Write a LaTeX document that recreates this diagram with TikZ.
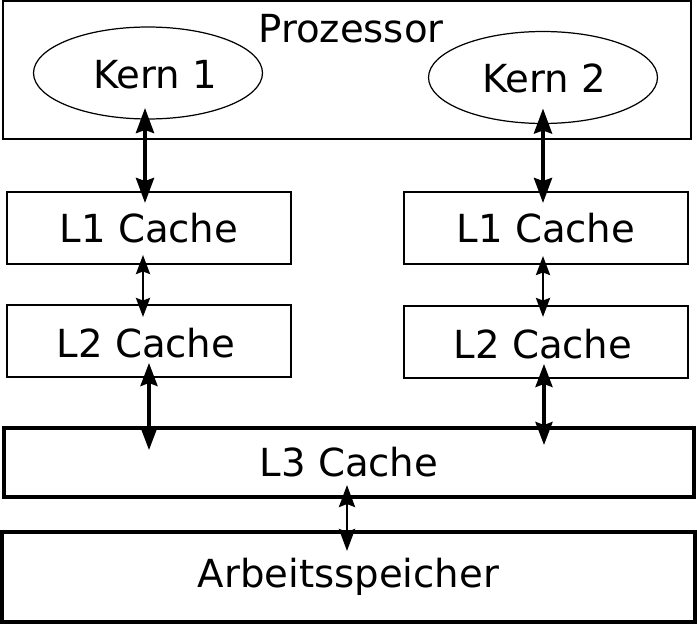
\documentclass[tikz,border=0pt]{standalone}
\usepackage{fontspec}
\setmainfont{DejaVu Sans}
\usetikzlibrary{shapes.geometric, calc, positioning, arrows.meta}

\begin{document}
\begin{tikzpicture}[
        x=0.02cm, y=-0.02cm,
        font=\fontsize{22}{26}\selectfont,
        cpuBox/.style={draw, line width=1.1pt, inner sep=0pt, outer sep=0pt, minimum width=13.76cm, minimum height=2.76cm},
        coreNode/.style={draw, ellipse, line width=0.7pt, inner sep=0pt, outer sep=0pt, minimum width=4.58cm, minimum height=1.84cm},
        cacheNode/.style={draw, line width=1.1pt, inner sep=0pt, outer sep=0pt, minimum width=5.68cm, minimum height=1.44cm},
        sharedNode/.style={draw, line width=1.8pt, inner sep=0pt, outer sep=0pt, minimum width=13.8cm, minimum height=1.38cm},
        ramNode/.style={draw, line width=2pt, inner sep=0pt, outer sep=0pt, minimum width=13.86cm, minimum height=1.8cm},
        bigLink/.style={line width=2.2pt, {Stealth[length=0.5cm, width=0.36cm, inset=0.06cm]}-{Stealth[length=0.5cm, width=0.36cm, inset=0.06cm]}},
        smallLink/.style={line width=1.5pt, {Stealth[length=0.38cm, width=0.28cm, inset=0.05cm]}-{Stealth[length=0.38cm, width=0.28cm, inset=0.05cm]}},
        midLink/.style={line width=2pt, {Stealth[length=0.46cm, width=0.34cm, inset=0.06cm]}-{Stealth[length=0.46cm, width=0.34cm, inset=0.06cm]}},
        ramLink/.style={line width=1.7pt, {Stealth[length=0.44cm, width=0.32cm, inset=0.06cm]}-{Stealth[length=0.44cm, width=0.32cm, inset=0.06cm]}}
    ]
        \useasboundingbox (0,0) rectangle (697,625);

        % Prozessor mit zwei Kernen
        \node[cpuBox] (cpu) at (347,70) {};
        \node (cpuLabel) at (351,29) {Prozessor};
        \node[coreNode] (kernA) at (148,73) {};
        \node (kernAText) at (155,75) {Kern 1};
        \node[coreNode] (kernB) at (543,77.5) {};
        \node (kernBText) at (544,78) {Kern 2};

        % private Caches
        \node[cacheNode] (lOneA) at (149,228) {L1 Cache};
        \node[cacheNode] (lOneB) at (546,228) {L1 Cache};
        \node[cacheNode] (lTwoA) at (149,341) {};
        \node (lTwoAText) at (146,343) {L2 Cache};
        \node[cacheNode] (lTwoB) at (546,342) {};
        \node (lTwoBText) at (543,344) {L2 Cache};

        % gemeinsamer Cache und Speicher
        \node[sharedNode] (lThree) at (349,462.5) {L3 Cache};
        \node[ramNode] (ram) at (348.5,577) {Arbeitsspeicher};

        \draw[bigLink] ($(kernA.south)+(-3,-11)$) -- ($(kernA.south |- lOneA.north)+(-3,11)$);
        \draw[bigLink] ($(kernB.south)+(0,-15)$) -- ($(kernB.south |- lOneB.north)+(0,11)$);
        \draw[smallLink] ($(lOneA.south)+(-6,-9)$) -- ($(lOneA.south |- lTwoA.north)+(-6,12)$);
        \draw[smallLink] ($(lOneB.south)+(-3,-8)$) -- ($(lOneB.south |- lTwoB.north)+(-3,11)$);
        \draw[midLink] ($(lTwoA.south)+(0,-14)$) -- ($(lTwoA.south |- lThree.north)+(0,22)$);
        \draw[midLink] ($(lTwoB.south)+(-2,-14)$) -- ($(lTwoB.south |- lThree.north)+(-2,17)$);
        \draw[ramLink] ($(lThree.south)+(-2,-12)$) -- ($(lThree.south |- ram.north)+(-2,19)$);
    \end{tikzpicture}
\end{document}
